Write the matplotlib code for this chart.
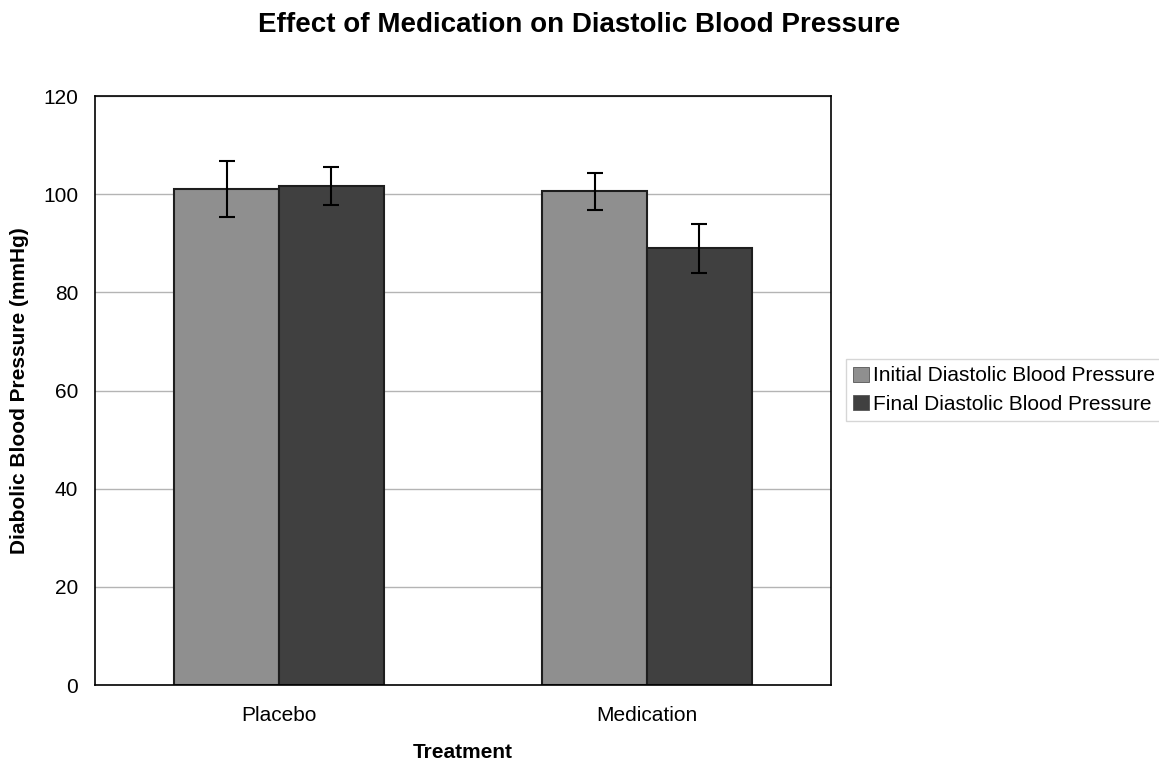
import numpy as np
import matplotlib
matplotlib.use("Agg")
from matplotlib import pyplot as plt

plt.rcParams['font.family'] = ['Liberation Sans', 'DejaVu Sans']

treatments = ["Placebo", "Medication"]
series_names = ["Initial Diastolic Blood Pressure", "Final Diastolic Blood Pressure"]
initial_bp = [101.1, 100.6]
initial_err = [5.65, 3.8]
final_bp = [101.7, 89.0]
final_err = [3.85, 5.0]

colors = ['#8f8f8f', '#404040']
width = 0.285

fig = plt.figure(figsize=(11.59, 7.62), dpi=100)
ax = fig.add_axes([0.082, 0.101, 0.635, 0.773])

x = np.arange(len(treatments))
ax.set_axisbelow(True)
ax.yaxis.grid(True, color='#b4b4b4', lw=1)
ax.bar(x - width/2, initial_bp, width, yerr=initial_err, color=colors[0],
       edgecolor='#1e1e1e', lw=1.5, capsize=6,
       error_kw=dict(ecolor='black', elinewidth=1.5, capthick=1.5),
       label=series_names[0])
ax.bar(x + width/2, final_bp, width, yerr=final_err, color=colors[1],
       edgecolor='#1e1e1e', lw=1.5, capsize=6,
       error_kw=dict(ecolor='black', elinewidth=1.5, capthick=1.5),
       label=series_names[1])

ax.set_xlim(-0.5, 1.5)
ax.set_ylim(0, 120)
ax.set_yticks(range(0, 121, 20))
ax.set_xticks(x)
ax.set_xticklabels(treatments)
ax.tick_params(length=0, labelsize=15)
ax.tick_params(axis='y', pad=12)
ax.tick_params(axis='x', pad=15)
for s in ax.spines.values():
    s.set_color('black')
    s.set_linewidth(1.2)

ax.set_xlabel("Treatment", fontsize=15, fontweight='bold', labelpad=13)
ax.set_ylabel("Diabolic Blood Pressure (mmHg)", fontsize=15, fontweight='bold', labelpad=10)
fig.suptitle("Effect of Medication on Diastolic Blood Pressure", fontsize=20,
             fontweight='bold', y=0.984)

leg = fig.legend(loc='center left', bbox_to_anchor=(0.730, 0.488), fontsize=15,
                 frameon=True, fancybox=False, edgecolor='#cccccc',
                 handlelength=0.75, handleheight=0.75, handletextpad=0.2,
                 borderpad=0.35, labelspacing=0.45, borderaxespad=0)
leg.get_frame().set_linewidth(1)
for h in leg.legend_handles:
    h.set_linewidth(0.6)
    h.set_edgecolor('#555555')

plt.savefig("out.png", dpi=100)
